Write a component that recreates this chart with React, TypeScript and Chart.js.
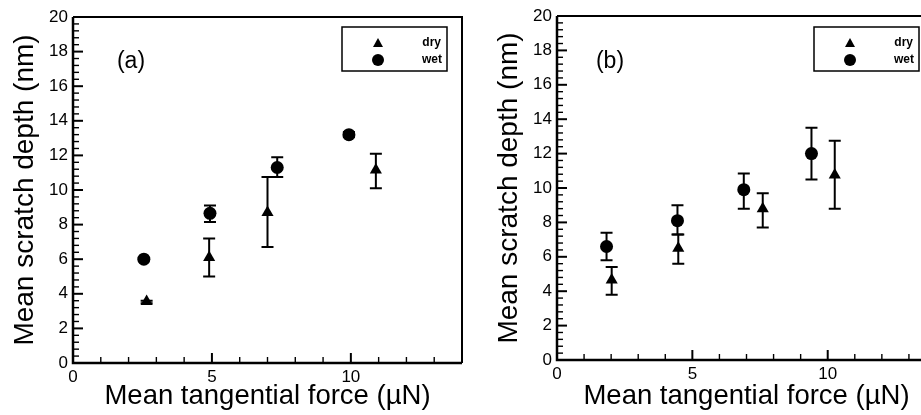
import React, { useEffect, useRef } from "react";
import { Chart, registerables } from "chart.js";

Chart.register(...registerables);

// ---------- data ----------
const xTickValues = [0, 5, 10];
const yTickValues = [0, 2, 4, 6, 8, 10, 12, 14, 16, 18, 20];
const seriesNames = ["dry", "wet"];
const panelLabels = ["(a)", "(b)"];
const xTitle = "Mean tangential force (\u00b5N)";
const yTitle = "Mean scratch depth (nm)";

// Panel (a)
const aDryX = [2.65, 4.9, 7.0, 10.9];
const aDryY = [3.55, 6.1, 8.7, 11.15];
const aDryLow = [3.45, 5.0, 6.7, 10.1];
const aDryHigh = [3.6, 7.2, 10.75, 12.1];
const aWetX = [2.55, 4.93, 7.35, 9.93];
const aWetY = [6.0, 8.65, 11.3, 13.2];
const aWetLow = [5.95, 8.15, 10.75, 13.05];
const aWetHigh = [6.05, 9.1, 11.9, 13.35];

// Panel (b)
const bDryX = [2.02, 4.48, 7.6, 10.26];
const bDryY = [4.65, 6.5, 8.8, 10.75];
const bDryLow = [3.8, 5.6, 7.7, 8.8];
const bDryHigh = [5.4, 7.3, 9.7, 12.75];
const bWetX = [1.83, 4.45, 6.9, 9.4];
const bWetY = [6.6, 8.1, 9.9, 12.0];
const bWetLow = [5.8, 7.3, 8.8, 10.5];
const bWetHigh = [7.4, 9.0, 10.85, 13.5];

const FONT = "'Liberation Sans', Arial, Helvetica, sans-serif";

type Panel = {
  label: string;
  dryX: number[]; dryY: number[]; dryLow: number[]; dryHigh: number[];
  wetX: number[]; wetY: number[]; wetLow: number[]; wetHigh: number[];
  left: number; width: number; padTop: number; padRight: number;
  xAxisH: number; labelDx: number; labelDy: number; legendDx: number;
};

const panels: Panel[] = [
  {
    label: panelLabels[0],
    dryX: aDryX, dryY: aDryY, dryLow: aDryLow, dryHigh: aDryHigh,
    wetX: aWetX, wetY: aWetY, wetLow: aWetLow, wetHigh: aWetHigh,
    left: 0, width: 470, padTop: 17, padRight: 8, xAxisH: 52,
    labelDx: 58, labelDy: 45, legendDx: 269,
  },
  {
    label: panelLabels[1],
    dryX: bDryX, dryY: bDryY, dryLow: bDryLow, dryHigh: bDryHigh,
    wetX: bWetX, wetY: bWetY, wetLow: bWetLow, wetHigh: bWetHigh,
    left: 484, width: 460, padTop: 16, padRight: 8, xAxisH: 55,
    labelDx: 53, labelDy: 46, legendDx: 257,
  },
];

const decorPlugin = {
  id: "decor",
  beforeDatasetsDraw(chart: any) {
    const { ctx } = chart;
    const x = chart.scales.x;
    const y = chart.scales.y;
    ctx.save();
    ctx.strokeStyle = "#000";
    ctx.lineWidth = 2;
    chart.data.datasets.forEach((ds: any) => {
      ds.data.forEach((pt: any, i: number) => {
        const px = x.getPixelForValue(pt.x);
        const lo = y.getPixelForValue(ds.errLow[i]);
        const hi = y.getPixelForValue(ds.errHigh[i]);
        ctx.beginPath();
        ctx.moveTo(px, lo);
        ctx.lineTo(px, hi);
        ctx.moveTo(px - 6, lo);
        ctx.lineTo(px + 6, lo);
        ctx.moveTo(px - 6, hi);
        ctx.lineTo(px + 6, hi);
        ctx.stroke();
      });
    });
    ctx.restore();
  },
  afterDraw(chart: any, _args: any, opts: any) {
    const { ctx, chartArea: ca } = chart;
    const x = chart.scales.x;
    const y = chart.scales.y;
    ctx.save();
    ctx.strokeStyle = "#000";
    ctx.fillStyle = "#000";
    // frame
    ctx.lineWidth = 2.5;
    ctx.beginPath();
    ctx.moveTo(ca.left, ca.top);
    ctx.lineTo(ca.left, ca.bottom);
    ctx.lineTo(ca.right, ca.bottom);
    ctx.stroke();
    ctx.lineWidth = 2;
    ctx.beginPath();
    ctx.moveTo(ca.left, ca.top);
    ctx.lineTo(ca.right, ca.top);
    ctx.lineTo(ca.right, ca.bottom);
    ctx.stroke();
    // y ticks (inward), minor every 0.4
    for (let k = 0; k <= 50; k++) {
      const v = k * 0.4;
      const py = y.getPixelForValue(v);
      const major = k % 5 === 0;
      ctx.lineWidth = major ? 2 : 1.4;
      ctx.beginPath();
      ctx.moveTo(ca.left, py);
      ctx.lineTo(ca.left + (major ? 10 : 6), py);
      ctx.stroke();
    }
    // x ticks (inward), minor every 1
    for (let k = 0; k <= 14; k++) {
      const px = x.getPixelForValue(k);
      const major = k % 5 === 0;
      ctx.lineWidth = major ? 2 : 1.4;
      ctx.beginPath();
      ctx.moveTo(px, ca.bottom);
      ctx.lineTo(px, ca.bottom - (major ? 10 : 6));
      ctx.stroke();
    }
    // panel label
    ctx.font = `23px ${FONT}`;
    ctx.textAlign = "center";
    ctx.textBaseline = "middle";
    ctx.fillText(opts.label, ca.left + opts.labelDx, ca.top + opts.labelDy);
    // legend box
    const bx = ca.left + opts.legendDx;
    const by = 27;
    const bw = 105;
    const bh = 44;
    ctx.lineWidth = 1.5;
    ctx.strokeRect(bx, by, bw, bh);
    // triangle
    const mx = bx + 36;
    ctx.beginPath();
    ctx.moveTo(mx, 38);
    ctx.lineTo(mx + 5, 47);
    ctx.lineTo(mx - 5, 47);
    ctx.closePath();
    ctx.fill();
    // circle
    ctx.beginPath();
    ctx.arc(mx, 60, 6, 0, Math.PI * 2);
    ctx.fill();
    ctx.font = `bold 12px ${FONT}`;
    ctx.textAlign = "right";
    ctx.fillText(seriesNames[0], bx + bw - 6, 43);
    ctx.fillText(seriesNames[1], bx + bw - 5, 60);
    ctx.restore();
  },
};

function PanelChart({ p }: { p: Panel }) {
  const ref = useRef<HTMLCanvasElement | null>(null);
  useEffect(() => {
    if (!ref.current) return;
    const mk = (xs: number[], ys: number[]) => xs.map((v, i) => ({ x: v, y: ys[i] }));
    const chart = new Chart(ref.current, {
      type: "scatter",
      data: {
        datasets: [
          {
            label: seriesNames[0],
            data: mk(p.dryX, p.dryY),
            pointStyle: "triangle",
            pointRadius: 7,
            backgroundColor: "#000",
            borderColor: "#000",
            borderWidth: 0,
            errLow: p.dryLow,
            errHigh: p.dryHigh,
          } as any,
          {
            label: seriesNames[1],
            data: mk(p.wetX, p.wetY),
            pointStyle: "circle",
            pointRadius: 6.5,
            backgroundColor: "#000",
            borderColor: "#000",
            borderWidth: 0,
            errLow: p.wetLow,
            errHigh: p.wetHigh,
          } as any,
        ],
      },
      options: {
        animation: false,
        responsive: false,
        devicePixelRatio: 1,
        layout: { padding: { top: p.padTop, right: p.padRight, left: 0, bottom: 0 } },
        plugins: {
          legend: { display: false },
          tooltip: { enabled: false },
          decor: {
            label: p.label,
            labelDx: p.labelDx,
            labelDy: p.labelDy,
            legendDx: p.legendDx,
          },
        } as any,
        scales: {
          x: {
            type: "linear",
            min: 0,
            max: 14,
            grid: { display: false, drawTicks: false },
            border: { display: false },
            afterBuildTicks: (s: any) => {
              s.ticks = xTickValues.map((v) => ({ value: v }));
            },
            afterFit: (s: any) => {
              s.height = p.xAxisH;
            },
            ticks: {
              color: "#000",
              font: { family: FONT, size: 17 },
              padding: 4,
              maxRotation: 0,
            },
            title: {
              display: true,
              text: xTitle,
              color: "#000",
              font: { family: FONT, size: 27.5 },
              padding: { top: 2, bottom: 2 },
            },
          },
          y: {
            type: "linear",
            min: 0,
            max: 20,
            grid: { display: false, drawTicks: false },
            border: { display: false },
            afterBuildTicks: (s: any) => {
              s.ticks = yTickValues.map((v) => ({ value: v }));
            },
            afterFit: (s: any) => {
              s.width = 73;
            },
            ticks: {
              color: "#000",
              font: { family: FONT, size: 17 },
              padding: 5,
            },
            title: {
              display: true,
              text: yTitle,
              color: "#000",
              font: { family: FONT, size: 28 },
              padding: { top: 8, bottom: 0 },
            },
          },
        },
      },
      plugins: [decorPlugin],
    } as any);
    return () => chart.destroy();
  }, [p]);
  return (
    <div style={{ position: "absolute", left: p.left, top: 0, width: p.width, height: 415 }}>
      <canvas ref={ref} width={p.width} height={415} style={{ width: p.width, height: 415, display: "block" }} />
    </div>
  );
}

export default function App() {
  return (
    <div
      style={{
        position: "absolute",
        left: 0,
        top: 0,
        width: 921,
        height: 415,
        overflow: "hidden",
        background: "#fff",
      }}
    >
      {panels.map((p, i) => (
        <PanelChart key={i} p={p} />
      ))}
    </div>
  );
}
